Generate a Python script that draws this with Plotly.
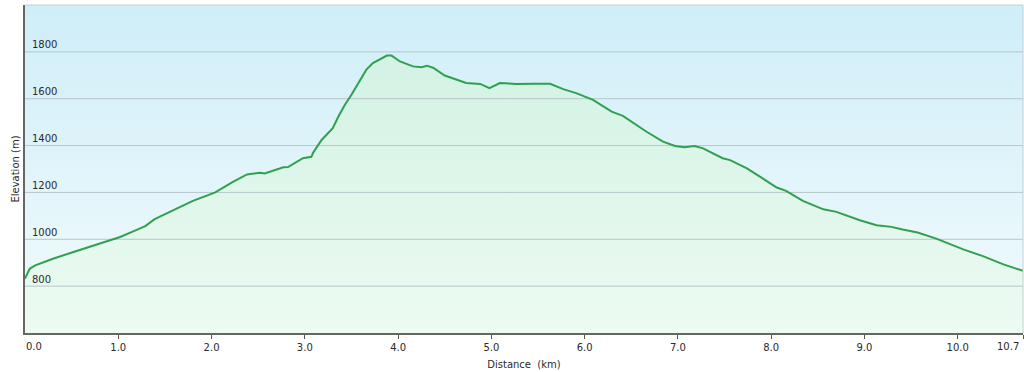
import plotly.graph_objects as go

# Data
distance_km = [0.00, 0.05, 0.11, 0.30, 0.52, 0.76, 1.02, 1.16, 1.29, 1.39, 1.59, 1.80,
               2.04, 2.22, 2.38, 2.52, 2.57, 2.77, 2.82, 2.98, 3.07, 3.09, 3.18, 3.23,
               3.30, 3.36, 3.43, 3.50, 3.59, 3.66, 3.73, 3.80, 3.88, 3.93, 4.02, 4.16,
               4.25, 4.31, 4.38, 4.50, 4.63, 4.73, 4.88, 4.98, 5.09, 5.27, 5.45, 5.63,
               5.77, 5.91, 6.09, 6.29, 6.41, 6.66, 6.84, 6.97, 7.07, 7.18, 7.27, 7.48,
               7.56, 7.74, 8.06, 8.16, 8.34, 8.56, 8.70, 8.95, 9.13, 9.29, 9.41, 9.57,
               9.77, 10.06, 10.27, 10.49, 10.70]
elevation_m = [832, 874, 889, 917, 946, 977, 1010, 1034, 1056, 1086, 1124, 1164,
               1200, 1243, 1277, 1284, 1281, 1307, 1308, 1346, 1352, 1370, 1424, 1445,
               1474, 1524, 1574, 1617, 1674, 1724, 1752, 1767, 1784, 1784, 1759, 1738,
               1734, 1741, 1731, 1699, 1681, 1667, 1663, 1645, 1667, 1663, 1664, 1664,
               1641, 1624, 1595, 1545, 1527, 1460, 1417, 1398, 1393, 1398, 1388, 1346,
               1338, 1303, 1221, 1207, 1164, 1128, 1117, 1081, 1060, 1053, 1042, 1029,
               1003, 957, 928, 893, 865]

x_ticks = [0, 1, 2, 3, 4, 5, 6, 7, 8, 9, 10, 10.7]
x_tick_labels = ["0.0", "1.0", "2.0", "3.0", "4.0", "5.0", "6.0", "7.0", "8.0", "9.0", "10.0", "10.7"]
y_ticks = [800, 1000, 1200, 1400, 1600, 1800]
y_tick_labels = ["800", "1000", "1200", "1400", "1600", "1800"]

X_MIN, X_MAX = 0, 10.7
Y_MIN, Y_MAX = 600, 2000

FONT = "DejaVu Sans"
TEXT = "#2a2a2a"

fig = go.Figure()

# plot-area background gradient
fig.add_trace(go.Scatter(
    x=[X_MIN, X_MAX, X_MAX, X_MIN], y=[Y_MIN, Y_MIN, Y_MAX, Y_MAX],
    fill="toself", mode="none", hoverinfo="skip", showlegend=False,
    fillgradient=dict(type="vertical", start=Y_MIN, stop=Y_MAX,
                      colorscale=[[0, "#f2fbfb"], [1, "#cfeef9"]]),
))

# area under the profile
fig.add_trace(go.Scatter(
    x=distance_km, y=elevation_m, fill="tozeroy", mode="none",
    hoverinfo="skip", showlegend=False,
    fillgradient=dict(type="vertical", start=Y_MIN, stop=1800,
                      colorscale=[[0, "#edfbf2"], [1, "#d2f2e4"]]),
))

# horizontal gridlines (drawn over the fill, under the line)
gx, gy = [], []
for v in y_ticks:
    gx += [X_MIN, X_MAX, None]
    gy += [v, v, None]
fig.add_trace(go.Scatter(x=gx, y=gy, mode="lines", hoverinfo="skip", showlegend=False,
                         line=dict(color="#b7c6ca", width=1)))

# profile line
fig.add_trace(go.Scatter(x=distance_km, y=elevation_m, mode="lines", showlegend=False,
                         line=dict(color="#30a050", width=2)))

edge_labels = [
    dict(x=x_ticks[0], y=0, xref="x", yref="paper", text=x_tick_labels[0],
         showarrow=False, xanchor="left", yanchor="top", yshift=-6, xshift=-1,
         font=dict(family=FONT, size=10, color=TEXT)),
    dict(x=x_ticks[-1], y=0, xref="x", yref="paper", text=x_tick_labels[-1],
         showarrow=False, xanchor="right", yanchor="top", yshift=-6, xshift=-2,
         font=dict(family=FONT, size=10, color=TEXT)),
]

fig.update_layout(
    width=1024, height=372,
    margin=dict(l=25, r=1, t=5, b=39),
    paper_bgcolor="white", plot_bgcolor="white",
    font=dict(family=FONT, size=10, color=TEXT),
    xaxis=dict(range=[X_MIN, X_MAX], tickvals=x_ticks,
               ticktext=[""] + x_tick_labels[1:-1] + [""],
               showgrid=False, zeroline=False, showline=True, linecolor="#666666", linewidth=2,
               ticks="outside", ticklen=4, tickcolor="#555555", tickwidth=1,
               tickfont=dict(family=FONT, size=10, color=TEXT),
               title=dict(text="Distance  (km)", standoff=9,
                          font=dict(family=FONT, size=10, color=TEXT))),
    yaxis=dict(range=[Y_MIN, Y_MAX], tickvals=y_ticks, ticktext=y_tick_labels,
               showgrid=False, zeroline=False, showline=True, linecolor="#666666", linewidth=2,
               ticks="", ticklabelposition="inside", ticklabelstandoff=6, ticklabelshift=-7,
               tickfont=dict(family=FONT, size=10, color=TEXT),
               title=dict(text="Elevation (m)", standoff=11,
                          font=dict(family=FONT, size=10, color=TEXT))),
    shapes=[
        dict(type="line", xref="paper", yref="paper", x0=0, x1=1, y0=1, y1=1,
             line=dict(color="#c4ced2", width=1), layer="above"),
        dict(type="line", xref="paper", yref="paper", x0=1, x1=1, y0=0, y1=1,
             line=dict(color="#c4ced2", width=1), layer="above"),
    ],
    annotations=edge_labels,
)

fig.write_html("out.html")
